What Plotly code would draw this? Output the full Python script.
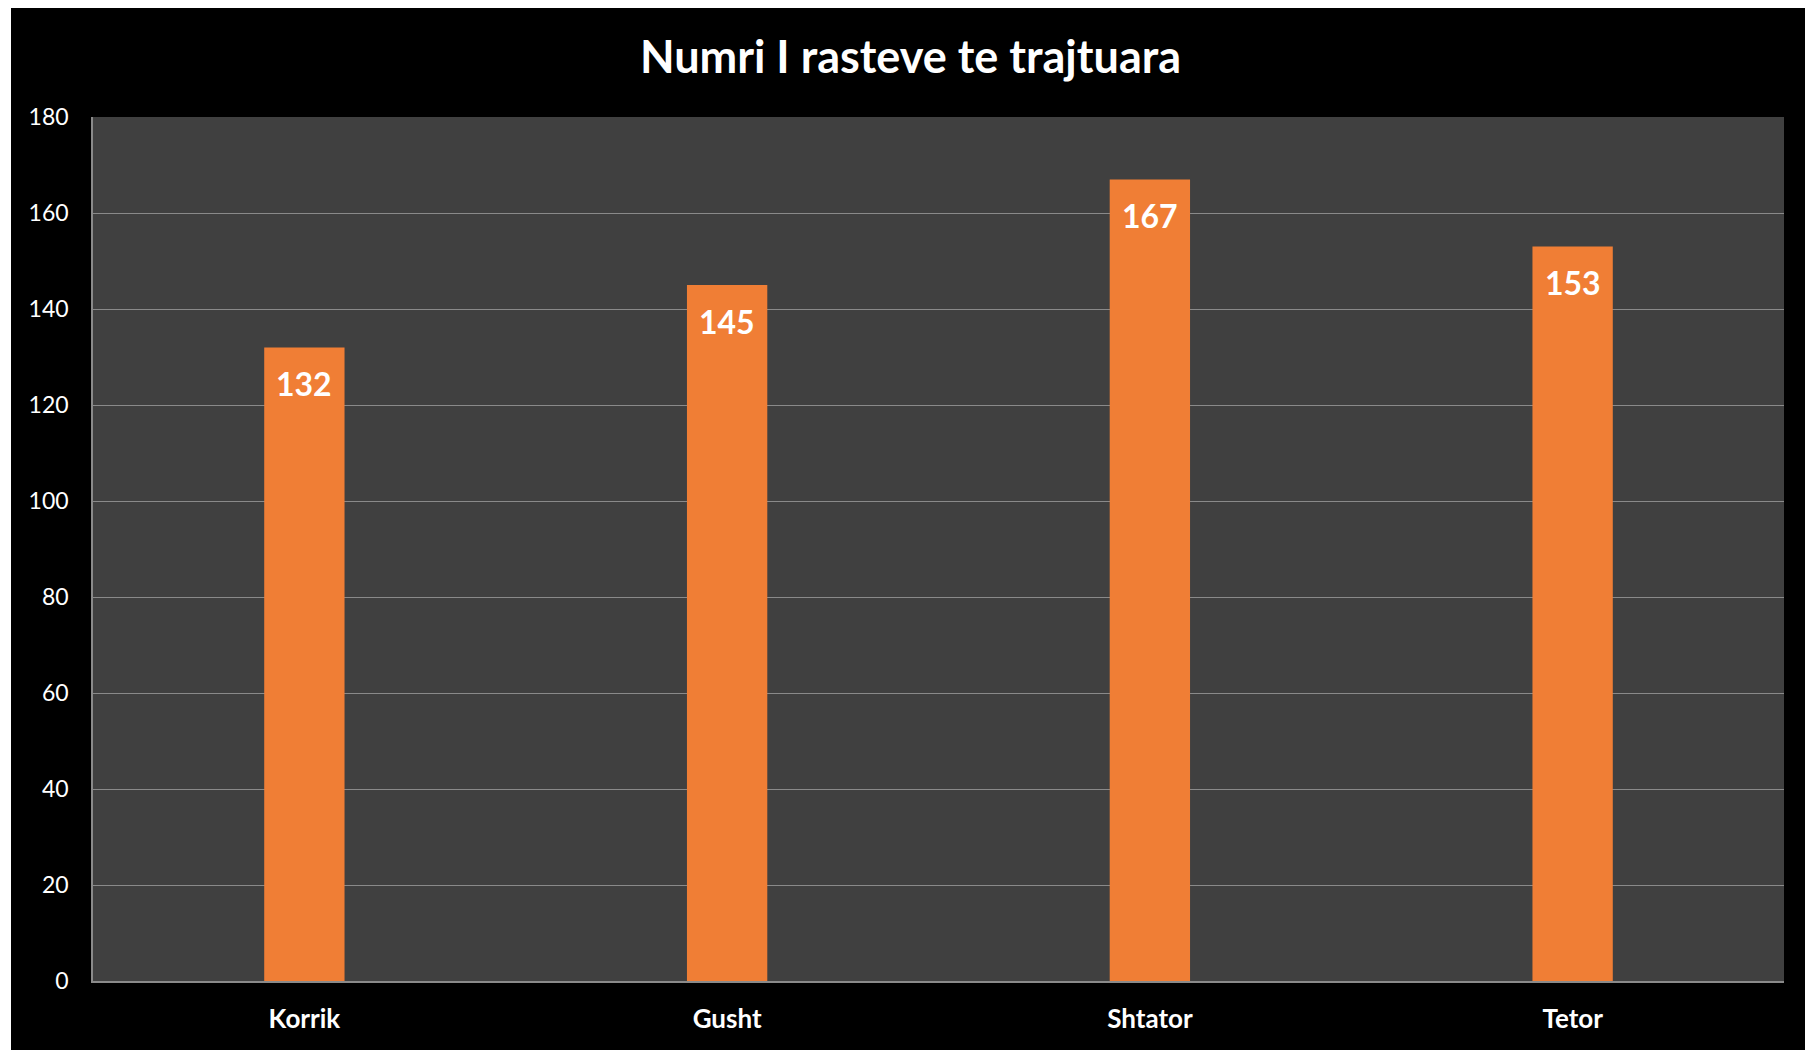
import plotly.graph_objects as go

categories = ["Korrik", "Gusht", "Shtator", "Tetor"]
values = [132, 145, 167, 153]
y_ticks = [0, 20, 40, 60, 80, 100, 120, 140, 160, 180]
title_text = "Numri I rasteve te trajtuara"

# the page body adds an 8px offset, so the figure is sized to fit the window
W, H = 1805, 1042
ml, mr, mt, mb = 85, 29, 109, 69
pw, ph = W - ml - mr, H - mt - mb

fig = go.Figure()
fig.add_trace(go.Bar(
    x=categories, y=values,
    width=0.19,
    marker=dict(color="#F07E35", line=dict(width=0)),
    hoverinfo="x+y",
))

for c, v in zip(categories, values):
    fig.add_annotation(x=c, y=v, text=str(v), showarrow=False,
                       xanchor="center", yanchor="middle", yshift=-36,
                       font=dict(family="Lato", size=32, color="white", weight="bold"))

# slightly wider white strip at the left edge
fig.add_shape(type="rect", xref="paper", yref="paper", layer="above",
              x0=-ml / pw - 0.01, x1=(3 - ml) / pw, y0=-mb / ph - 0.01, y1=1 + mt / ph + 0.01,
              fillcolor="white", line=dict(width=0))

fig.update_layout(
    width=W, height=H,
    margin=dict(l=ml, r=mr, t=mt, b=mb, pad=0),
    paper_bgcolor="black",
    plot_bgcolor="#404040",
    showlegend=False,
    title=dict(text=title_text, x=0.5, xanchor="center", y=1 - 49 / H, yanchor="middle",
               font=dict(family="Lato", size=45, color="white", weight="bold")),
    xaxis=dict(
        showgrid=False, showline=True, linecolor="#8a8a8a", linewidth=1.5,
        tickfont=dict(family="Lato", size=26, color="white", weight="bold"),
        ticks="", ticklabelstandoff=14, fixedrange=True,
    ),
    yaxis=dict(
        range=[0, 180], tickvals=y_ticks, showgrid=True, gridcolor="#8a8a8a", gridwidth=1,
        showline=True, linecolor="#8a8a8a", linewidth=1.5, zeroline=False,
        tickfont=dict(family="Lato", size=23, color="white"),
        ticks="", ticklabelstandoff=18, fixedrange=True,
    ),
)

fig.write_html("out.html")
